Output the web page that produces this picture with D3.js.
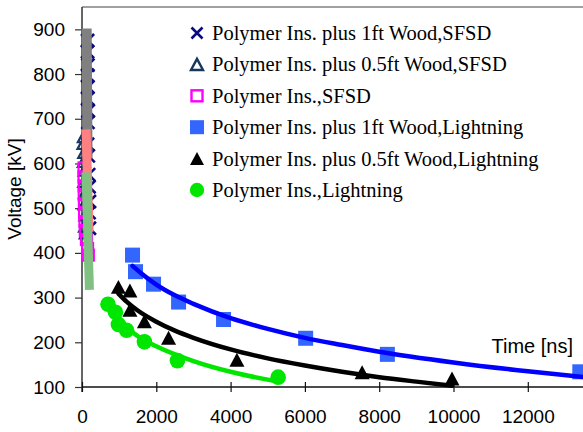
<!DOCTYPE html>
<html>
<head>
<meta charset="utf-8">
<script src="https://cdn.jsdelivr.net/npm/d3@7"></script>
<style>
  html, body { margin: 0; padding: 0; background: #fff; }
  svg { display: block; }
</style>
</head>
<body>
<svg id="chart" width="583" height="432"></svg>
<script>
// ---------------- DATA ----------------
const seriesNames = [
  "Polymer Ins. plus 1ft Wood,SFSD",
  "Polymer Ins. plus 0.5ft Wood,SFSD",
  "Polymer Ins.,SFSD",
  "Polymer Ins. plus 1ft Wood,Lightning",
  "Polymer Ins. plus 0.5ft Wood,Lightning",
  "Polymer Ins.,Lightning"
];

// SFSD series (time in ns, voltage in kV)
const sfsd1ftX = [150, 150, 160, 150, 160, 150, 170, 160, 150, 170, 180, 190, 200, 190, 200];
const sfsd1ftY = [875, 850, 820, 797, 771, 745, 718, 692, 643, 617, 575, 548, 515, 490, 455];

const sfsd05ftX = [50, 40, 60, 50, 70, 60, 80, 70, 90, 80, 100];
const sfsd05ftY = [660, 645, 625, 605, 585, 560, 535, 510, 485, 460, 445];

const sfsdPolyX = [55, 55, 60, 60, 65, 70, 80, 90, 120, 150, 170];
const sfsdPolyY = [590, 570, 550, 530, 510, 490, 470, 450, 430, 410, 395];

// Lightning series
const lt1ftX = [1360, 1440, 1925, 2600, 3810, 6020, 8220, 13400];
const lt1ftY = [395, 358, 330, 290, 251, 209, 173, 134];

const lt05ftX = [980, 1290, 1290, 1680, 2330, 4170, 7540, 9960];
const lt05ftY = [324, 316, 273, 247, 210, 161, 133, 119];

const ltPolyX = [700, 900, 980, 1200, 1680, 2570, 5280];
const ltPolyY = [285, 267, 240, 227, 201, 159, 122];

// Trend lines
const fitSfsd1ftX = [125, 150];
const fitSfsd1ftY = [902, 612];
const fitSfsd05ftX = [108, 190];
const fitSfsd05ftY = [676, 447];
const fitSfsdPolyX = [108, 200];
const fitSfsdPolyY = [580, 317];

const fitLt1ftX = [1360, 1600, 2000, 2500, 3000, 4000, 5000, 6000, 7000, 8000, 10000, 12000, 13500];
const fitLt1ftY = [371, 354, 329, 305, 286, 254, 230, 210, 194, 179, 155, 135, 122];

const fitLt05ftX = [980, 1200, 1500, 2000, 2500, 3000, 4000, 5000, 6000, 7000, 8000, 9000, 9960];
const fitLt05ftY = [309, 291, 271, 246, 226, 210, 184, 164, 148, 134, 122, 112, 103];

const fitLtPolyX = [700, 1000, 1500, 2000, 3000, 4000, 5280];
const fitLtPolyY = [277, 248, 214, 191, 158, 134, 112];

const xTicks = [0, 2000, 4000, 6000, 8000, 10000, 12000];
const yTicks = [100, 200, 300, 400, 500, 600, 700, 800, 900];

const xTitle = "Time [ns]";
const yTitle = "Voltage [kV]";

// ---------------- DRAWING ----------------
const svg = d3.select("#chart");
const sans = "'Liberation Sans', Arial, Helvetica, sans-serif";
const serif = "'Liberation Serif', 'Times New Roman', Times, serif";

const x = d3.scaleLinear().domain([0, 14000]).range([82, 82 + 14000 * 0.03715]);
const y = d3.scaleLinear().domain([100, 950]).range([387, 7]);

const zip = (xs, ys) => xs.map((v, i) => [v, ys[i]]);
const fmt = d3.format("d");

// frame (top border)
svg.append("line")
  .attr("x1", x(0)).attr("x2", 583)
  .attr("y1", y(950)).attr("y2", y(950))
  .attr("stroke", "#808080").attr("stroke-width", 1.5);

// axes
const yAxis = svg.append("g")
  .attr("transform", `translate(${x(0)},0)`)
  .call(d3.axisLeft(y).tickValues(yTicks).tickFormat(fmt).tickSize(7).tickPadding(10).tickSizeOuter(0));
yAxis.select(".domain").remove();
yAxis.append("line").attr("x1", 0).attr("x2", 0).attr("y1", y(950)).attr("y2", y(100) + 5)
  .attr("stroke", "#333").attr("stroke-width", 1.5);
yAxis.selectAll(".tick line").attr("stroke", "#333").attr("stroke-width", 1.2);
yAxis.selectAll("text").attr("font-family", sans).attr("font-size", 19).attr("fill", "#000");

const xAxis = svg.append("g")
  .attr("transform", `translate(0,${y(100)})`)
  .call(d3.axisBottom(x).tickValues(xTicks).tickFormat(fmt).tickSize(5).tickPadding(18).tickSizeOuter(0));
xAxis.select(".domain").remove();
xAxis.append("line").attr("x1", x(0)).attr("x2", 583).attr("y1", 0).attr("y2", 0)
  .attr("stroke", "#111").attr("stroke-width", 1.5);
xAxis.selectAll(".tick line").attr("y1", -5).attr("stroke", "#111").attr("stroke-width", 1.2);
xAxis.selectAll("text").attr("font-family", sans).attr("font-size", 19).attr("fill", "#000");

// axis titles
svg.append("text")
  .attr("x", 573).attr("y", 353)
  .attr("text-anchor", "end")
  .attr("font-family", sans).attr("font-size", 20)
  .text(xTitle);
svg.append("text")
  .attr("transform", "translate(21,189) rotate(-90)")
  .attr("text-anchor", "middle")
  .attr("font-family", sans).attr("font-size", 19)
  .text(yTitle);

// marker helpers
function drawX(g, cx, cy, s, color, w) {
  g.append("path")
    .attr("d", `M${cx - s / 2},${cy - s / 2}L${cx + s / 2},${cy + s / 2}M${cx - s / 2},${cy + s / 2}L${cx + s / 2},${cy - s / 2}`)
    .attr("stroke", color).attr("stroke-width", w).attr("fill", "none");
}
function triPath(cx, cy, s) {
  const h = s * 0.93;
  return `M${cx},${cy - h / 2}L${cx + s / 2},${cy + h / 2}L${cx - s / 2},${cy + h / 2}Z`;
}

const colX = "#0A0A80", colTriO = "#17375E", colSqO = "#FF00FF",
      colSq = "#3366FF", colTri = "#000000", colCir = "#00E600";

const marks = svg.append("g");
// SFSD markers
zip(sfsd1ftX, sfsd1ftY).forEach(d => drawX(marks, x(d[0]), y(d[1]), 13, colX, 2.6));
zip(sfsd05ftX, sfsd05ftY).forEach(d => marks.append("path")
  .attr("d", triPath(x(d[0]), y(d[1]), 12)).attr("fill", "none")
  .attr("stroke", colTriO).attr("stroke-width", 2.2));
zip(sfsdPolyX, sfsdPolyY).forEach(d => marks.append("rect")
  .attr("x", x(d[0]) - 5.5).attr("y", y(d[1]) - 5.5).attr("width", 11).attr("height", 11)
  .attr("fill", "none").attr("stroke", colSqO).attr("stroke-width", 2.2));

// Lightning markers
zip(lt1ftX, lt1ftY).forEach(d => marks.append("rect")
  .attr("x", x(d[0]) - 7.5).attr("y", y(d[1]) - 7.5).attr("width", 15).attr("height", 15)
  .attr("fill", colSq));
zip(lt05ftX, lt05ftY).forEach(d => marks.append("path")
  .attr("d", triPath(x(d[0]), y(d[1]), 15)).attr("fill", colTri));
zip(ltPolyX, ltPolyY).forEach(d => marks.append("circle")
  .attr("cx", x(d[0])).attr("cy", y(d[1])).attr("r", 7.8).attr("fill", colCir));

// trend lines
const line = d3.line().x(d => x(d[0])).y(d => y(d[1])).curve(d3.curveMonotoneX);
const straight = d3.line().x(d => x(d[0])).y(d => y(d[1]));
const fits = svg.append("g");
fits.append("path").attr("d", straight(zip(fitSfsd1ftX, fitSfsd1ftY)))
  .attr("stroke", "#808080").attr("stroke-width", 10).attr("fill", "none");
fits.append("path").attr("d", straight(zip(fitSfsd05ftX, fitSfsd05ftY)))
  .attr("stroke", "#FF8080").attr("stroke-width", 9).attr("fill", "none");
fits.append("path").attr("d", straight(zip(fitSfsdPolyX, fitSfsdPolyY)))
  .attr("stroke", "#80C080").attr("stroke-width", 9).attr("fill", "none");
fits.append("path").attr("d", line(zip(fitLt1ftX, fitLt1ftY)))
  .attr("stroke", "#0000FF").attr("stroke-width", 4.5).attr("fill", "none").attr("stroke-linecap", "round");
fits.append("path").attr("d", line(zip(fitLt05ftX, fitLt05ftY)))
  .attr("stroke", "#000000").attr("stroke-width", 4.5).attr("fill", "none").attr("stroke-linecap", "round");
fits.append("path").attr("d", line(zip(fitLtPolyX, fitLtPolyY)))
  .attr("stroke", "#00E600").attr("stroke-width", 4.5).attr("fill", "none").attr("stroke-linecap", "round");

// legend
const legend = svg.append("g");
const ly0 = 33, lstep = 31.4, lmx = 197, ltx = 212;
seriesNames.forEach((name, i) => {
  const cy = ly0 + i * lstep;
  if (i === 0) drawX(legend, lmx, cy, 11, colX, 2.6);
  if (i === 1) legend.append("path").attr("d", triPath(lmx, cy, 12)).attr("fill", "none")
    .attr("stroke", colTriO).attr("stroke-width", 2.4);
  if (i === 2) legend.append("rect").attr("x", lmx - 5.5).attr("y", cy - 5.5).attr("width", 11).attr("height", 11)
    .attr("fill", "none").attr("stroke", colSqO).attr("stroke-width", 2.4);
  if (i === 3) legend.append("rect").attr("x", lmx - 7).attr("y", cy - 7).attr("width", 14).attr("height", 14)
    .attr("fill", colSq);
  if (i === 4) legend.append("path").attr("d", triPath(lmx, cy, 14)).attr("fill", colTri);
  if (i === 5) legend.append("circle").attr("cx", lmx).attr("cy", cy).attr("r", 7.2).attr("fill", colCir);
  legend.append("text")
    .attr("x", ltx).attr("y", cy + 7)
    .attr("font-family", serif).attr("font-size", 20.5).attr("fill", "#000")
    .text(name);
});
</script>
</body>
</html>
